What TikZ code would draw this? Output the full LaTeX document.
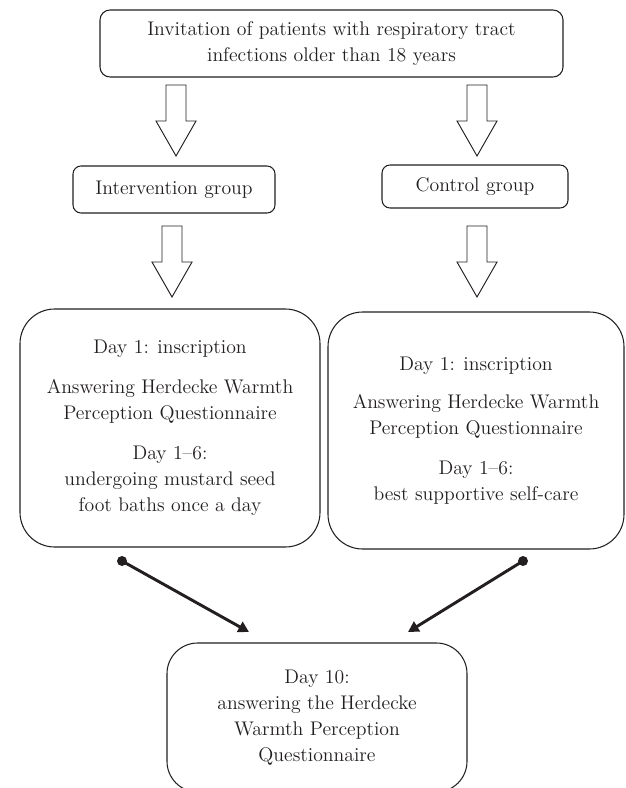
\documentclass[tikz,border=0pt]{standalone}
\usetikzlibrary{arrows.meta}
\newdimen\px \px=0.75pt
\definecolor{ink}{HTML}{231F20}
\begin{document}
\begin{tikzpicture}[x=0.75pt,y=-0.75pt,
  txt/.style={font=\fontsize{14.8}{19.5}\selectfont},
  box/.style={draw=ink, line width=0.8pt, text=ink, align=center, inner sep=0pt, txt},
  blockarrow/.pic={\draw[draw=ink, line width=0.7pt, line join=miter]
     (-10,0) -- (-10,36) -- (-20,36) -- (0,71) -- (20,36) -- (10,36) -- (10,0) -- cycle;},
  dotnode/.style={circle, fill=ink, inner sep=0pt, minimum size=7.5pt},
  conn/.style={draw=ink, line width=2.2pt, -{Triangle[length=8pt,width=8.5pt]}, shorten <=0pt}
]
\useasboundingbox (0,0) rectangle (625,788);

% boxes
\node[box, rounded corners=7.5pt, minimum width=463*\px, minimum height=67*\px] (top) at (331.5,43.5)
  {Invitation of patients with respiratory tract\\ infections older than 18 years};
\node[box, rounded corners=6pt, minimum width=202*\px, minimum height=47*\px] (int) at (174,189.5)
  {Intervention group};
\node[box, rounded corners=6pt, minimum width=186*\px, minimum height=43*\px] (ctl) at (475,186.5)
  {Control group};
\node[box, rounded corners=26pt, minimum width=300*\px, minimum height=238*\px] (left) at (170,428)
  {Day 1: inscription\\[10.5pt]
   Answering Herdecke Warmth\\ Perception Questionnaire\\[10.5pt]
   Day 1--6:\\ undergoing mustard seed\\ foot baths once a day};
\node[box, rounded corners=26pt, minimum width=296*\px, minimum height=237*\px] (right) at (476,430.5)
  {Day 1: inscription\\[9pt]
   Answering Herdecke Warmth\\ Perception Questionnaire\\[10.5pt]
   Day 1--6:\\ best supportive self-care};
\node[box, rounded corners=23pt, minimum width=300*\px, minimum height=149*\px] (bot) at (317,717.5)
  {Day 10:\\ answering the Herdecke\\ Warmth Perception\\ Questionnaire};

% block arrows
\pic at (176,85) {blockarrow};
\pic at (477,85) {blockarrow};
\pic at (172,226) {blockarrow};
\pic at (477,226) {blockarrow};

% connectors
\node[dotnode] (dl) at (122,561) {};
\node[dotnode] (dr) at (523,561) {};
\coordinate (tl) at (249,632);
\coordinate (tr) at (408,632);
\draw[conn] (dl.center) -- (tl);
\draw[conn] (dr.center) -- (tr);
\end{tikzpicture}
\end{document}
